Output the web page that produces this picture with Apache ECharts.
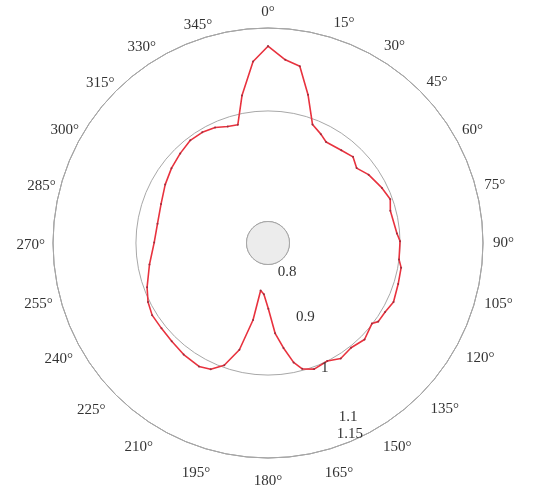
<!DOCTYPE html>
<html>
<head>
<meta charset="utf-8">
<script src="https://cdn.jsdelivr.net/npm/echarts@6/dist/echarts.min.js"></script>
<style>
  html, body { margin: 0; padding: 0; background: #fff; }
  #chart { width: 546px; height: 491px; }
</style>
</head>
<body>
<div id="chart"></div>
<script>
// Directional response: angle in degrees (clockwise from north) and normalised radius
const angles = [
  0, 5.4, 10.2, 15.1, 20.6, 25.9, 29.9, 38.3, 44.6, 49.8, 55.8, 64.2, 70.3, 75.2,
  85.8, 89.2, 97.2, 100.5, 107.5, 115.2, 120.5, 125.5, 127.8, 135, 141.6, 147.8,
  153.3, 159.9, 164.8, 167.9, 171.6, 175.5, 179.7, 184.6, 188.8, 191, 195, 199.7,
  204.4, 209.2, 217.1, 224.4, 231.3, 238.1, 243.8, 249.9, 259.7, 270.2, 279.9,
  290, 299.6, 307.8, 315.6, 322.9, 329.3, 335.4, 340.9, 345.7, 350, 355.3
];
const values = [
  1.117, 1.094, 1.086, 1.039, 0.990, 0.980, 0.972, 0.975, 0.980, 0.971, 0.981, 0.990, 0.996, 0.990,
  0.995, 1.000, 1.000, 1.006, 1.008, 1.012, 1.007, 1.006, 0.999, 1.008, 1.003, 1.008,
  1.000, 1.004, 0.997, 0.982, 0.953, 0.925, 0.880, 0.854, 0.848, 0.903, 0.961, 0.996,
  1.012, 1.017, 1.014, 1.010, 1.008, 1.008, 1.003, 0.994, 0.979, 0.967, 0.964,
  0.967, 0.975, 0.982, 0.988, 0.994, 0.994, 0.991, 0.984, 0.982, 1.032, 1.0905
];

// Radial scale
const radiusMin = 0.8;
const radiusMax = 1.15;
const radialLabelStep = 0.1;
const radialRingStep = 0.2;   // rings at 0.8, 1.0 and the rim at 1.15

// Angular scale
const angleStep = 15;

// ---- styling ----
const serif = '"Liberation Serif", "DejaVu Serif", serif';
const fontSize = 15;
const textColor = '#333333';
const center = [268, 243];
const radii = [21.5, 215];

// fine placement of the compass labels, [dx, dy] in px
const angleLabelNudge = {
  0: [0, 1], 15: [18, 4], 30: [4, 5], 45: [0, 5], 60: [0, 7], 75: [0, 0],
  90: [1, 0], 105: [0, 3], 120: [4, -4], 135: [4, 0], 150: [3, 3], 165: [13, 6],
  180: [0, 7], 195: [-14, 6], 210: [-3, 3], 225: [-4, 1], 240: [-1, -3], 255: [1, 3],
  270: [1, 2], 285: [4, 1], 300: [5, 7], 315: [5, 6], 330: [0, 6], 345: [-12, 6]
};
// fine placement of the radial labels (centred on their tick), [dx, dy] in px
const radiusLabelNudge = [[10, 10], [5, 4], [1, 5], [1, 4], [-9, -4]];

// the angle axis places labels with an alignment that depends on direction;
// turn a wanted offset into padding for that alignment
function nudgePadding(align, valign, dx, dy) {
  let t = 0, r = 0, b = 0, l = 0;
  if (align === 'left') l = dx;
  else if (align === 'right') r = -dx;
  else if (dx >= 0) l = 2 * dx; else r = -2 * dx;
  if (valign === 'top') t = dy;
  else if (valign === 'bottom') b = -dy;
  else if (dy >= 0) t = 2 * dy; else b = -2 * dy;
  return [t, r, b, l];
}
function angleAlign(deg) {
  const rad = deg * Math.PI / 180;
  const sx = Math.sin(rad), sy = -Math.cos(rad);
  return [
    Math.abs(sx) < 0.3 ? 'center' : (sx > 0 ? 'left' : 'right'),
    Math.abs(sy) < 0.3 ? 'middle' : (sy > 0 ? 'top' : 'bottom')
  ];
}

const baseText = { fontFamily: serif, fontSize: fontSize, color: textColor };
const angleRich = {};
Object.keys(angleLabelNudge).forEach(k => {
  const [al, va] = angleAlign(+k);
  const [dx, dy] = angleLabelNudge[k];
  angleRich['a' + k] = Object.assign({ padding: nudgePadding(al, va, dx, dy) }, baseText);
});
const radiusRich = {};
radiusLabelNudge.forEach(([dx, dy], i) => {
  radiusRich['r' + i] = Object.assign({ padding: nudgePadding('center', 'middle', dx, dy) }, baseText);
});

// polar data pairs are [radius, angle]; close the loop with the first point
const seriesData = angles.map((a, i) => [values[i], a]);
seriesData.push([values[0], 360]);

const chart = echarts.init(document.getElementById('chart'), null, { renderer: 'canvas' });

chart.setOption({
  backgroundColor: '#ffffff',
  animation: false,
  polar: [
    { center: center, radius: radii },            // main plot
    { center: center, radius: radii },            // radial tick labels, rotated
    { center: center, radius: [0, radii[0]] }     // shaded hub
  ],
  angleAxis: [
    {
      polarIndex: 0,
      type: 'value',
      min: 0,
      max: 360,
      interval: angleStep,
      startAngle: 90,
      clockwise: true,
      axisLine: { show: true, lineStyle: { color: '#8c8c8c', width: 1 } },
      axisTick: { show: false },
      splitLine: { show: false },
      axisLabel: {
        show: true,
        margin: 9,
        formatter: v => angleRich['a' + v] ? `{a${v}|${v}°}` : `${v}°`,
        rich: angleRich,
        fontFamily: serif,
        fontSize: fontSize,
        color: textColor
      }
    },
    {
      polarIndex: 1,
      type: 'value',
      min: 0,
      max: 360,
      startAngle: -65,
      clockwise: true,
      show: false
    },
    {
      polarIndex: 2,
      type: 'value',
      min: 0,
      max: 360,
      show: false
    }
  ],
  radiusAxis: [
    {
      polarIndex: 0,
      type: 'value',
      min: radiusMin,
      max: radiusMax,
      interval: radialRingStep,
      axisLine: { show: false },
      axisTick: { show: false },
      axisLabel: { show: false },
      splitLine: { show: true, lineStyle: { color: '#a8a8a8', width: 1 } },
      z: 3
    },
    {
      polarIndex: 1,
      type: 'value',
      min: radiusMin,
      max: radiusMax,
      interval: radialLabelStep,
      axisLine: { show: false },
      axisTick: { show: false },
      splitLine: { show: false },
      axisLabel: {
        show: true,
        margin: 0,
        align: 'center',
        verticalAlign: 'middle',
        formatter: (v, i) => `{r${i}|${v}}`,
        rich: radiusRich,
        fontFamily: serif,
        fontSize: fontSize,
        color: textColor
      },
      z: 5
    },
    {
      polarIndex: 2,
      type: 'value',
      min: 0,
      max: 1,
      interval: 1,
      axisLine: { show: false },
      axisTick: { show: false },
      axisLabel: { show: false },
      splitLine: { show: false },
      splitArea: { show: true, areaStyle: { color: ['#ececec'] } },
      z: 1
    }
  ],
  series: [
    {
      type: 'line',
      coordinateSystem: 'polar',
      polarIndex: 0,
      data: seriesData,
      smooth: false,
      symbol: 'circle',
      symbolSize: 2,
      showSymbol: true,
      itemStyle: { color: '#9a3040' },
      lineStyle: { color: '#e8323e', width: 1.6 },
      z: 4
    }
  ]
});
</script>
</body>
</html>
